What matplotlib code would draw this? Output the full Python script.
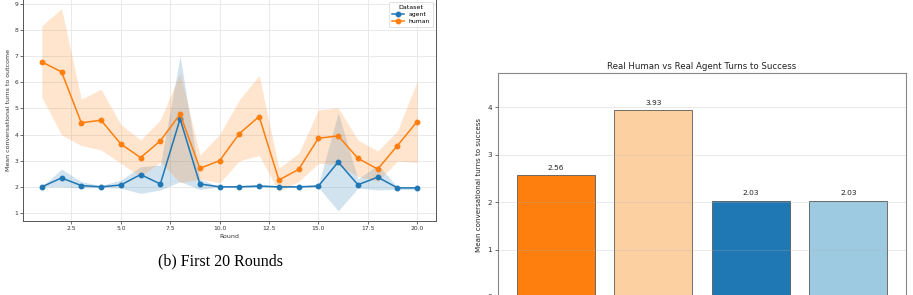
import matplotlib
matplotlib.use("Agg")
import matplotlib.pyplot as plt
import numpy as np

# ---- Left panel data: mean conversational turns per round ----
rounds = list(range(1, 21))
human_mean = [6.78, 6.40, 4.45, 4.55, 3.64, 3.12, 3.76, 4.78, 2.71, 3.00,
              4.04, 4.69, 2.26, 2.67, 3.86, 3.95, 3.09, 2.68, 3.58, 4.50]
human_upper = [8.16, 8.82, 5.36, 5.73, 4.39, 3.79, 4.56, 6.35, 3.22, 4.00,
               5.33, 6.27, 2.72, 3.28, 4.94, 5.03, 3.79, 3.37, 4.14, 6.05]
human_lower = [5.43, 3.99, 3.58, 3.41, 2.90, 2.39, 2.95, 2.16, 2.30, 2.15,
               3.00, 3.20, 1.82, 2.20, 2.90, 2.85, 2.40, 2.20, 2.99, 2.93]
agent_mean = [2.00, 2.34, 2.05, 2.00, 2.07, 2.47, 2.11, 4.60, 2.11, 2.00,
              2.00, 2.03, 2.00, 2.00, 2.03, 2.95, 2.08, 2.37, 1.96, 1.96]
agent_upper = [2.00, 2.68, 2.20, 2.05, 2.26, 2.77, 2.84, 7.01, 2.30, 2.00,
               2.05, 2.08, 2.03, 2.03, 2.08, 4.84, 2.30, 2.84, 2.00, 2.00]
agent_lower = [2.00, 2.00, 1.95, 1.97, 1.95, 1.75, 1.88, 2.20, 1.90, 2.00,
               1.98, 1.98, 1.98, 1.98, 1.98, 1.08, 1.95, 1.88, 1.90, 1.90]

# ---- Right panel data ----
bar_categories = ["Real Human (all)", "Real Human (matched)",
                  "Real Agent (all)", "Real Agent (matched)"]
bar_values = [2.56, 3.93, 2.03, 2.03]
bar_colors = ["#ff7f0e", "#fdd0a2", "#1f77b4", "#9ecae1"]

fig = plt.figure(figsize=(9.13, 2.95), dpi=100)

# Left axes
ax1 = fig.add_axes([23 / 913, 1 - 221 / 295, 413 / 913, 222.5 / 295])
blue, orange = "#1f77b4", "#ff7f0e"
ax1.fill_between(rounds, agent_lower, agent_upper, color=blue, alpha=0.2, linewidth=0)
ax1.fill_between(rounds, human_lower, human_upper, color=orange, alpha=0.2, linewidth=0)
ax1.plot(rounds, agent_mean, color=blue, marker="o", markersize=3.2, linewidth=1.1, label="agent")
ax1.plot(rounds, human_mean, color=orange, marker="o", markersize=3.2, linewidth=1.1, label="human")
ax1.grid(True, color="#e6e6e6", linewidth=0.6)
ax1.set_axisbelow(True)
ax1.tick_params(labelsize=4.3, length=2, width=0.5, pad=1.5, colors="#333333")
ax1.set_xlabel("Round", fontsize=4.5, labelpad=2, color="#333333")
ax1.set_ylabel("Mean conversational turns to outcome", fontsize=4.5, labelpad=2, color="#333333")
for s in ax1.spines.values():
    s.set_color("#555555")
    s.set_linewidth(0.7)
leg = ax1.legend(title="Dataset", loc="upper right", fontsize=4.4, title_fontsize=4.6,
                 frameon=True, borderpad=0.5, labelspacing=0.3, handlelength=1.9,
                 fancybox=True)
leg.get_frame().set_linewidth(0.5)

fig.text(220 / 913, 1 - 261 / 295, "(b) First 20 Rounds", fontsize=11.5,
         family="Liberation Serif", ha="center", va="center")

# Right axes (bottom edge, with its category labels, lies below the visible crop)
ax2 = fig.add_axes([498 / 913, 1 - 297 / 295, 408 / 913, 224 / 295])
x = np.arange(len(bar_values))
bars = ax2.bar(x, bar_values, width=0.8, color=bar_colors, edgecolor="#5a5a5a", linewidth=0.6)
ax2.set_ylim(0, max(bar_values) * 1.2)
ax2.set_xticks(x)
ax2.set_xticklabels([""] * len(bar_categories))
ax2.set_title("Real Human vs Real Agent Turns to Success", fontsize=6.2, pad=3, color="#222222")
ax2.set_ylabel("Mean conversational turns to success", fontsize=5.1, labelpad=4, color="#222222")
ax2.tick_params(labelsize=5.2, length=2.5, width=0.5, pad=2, colors="#333333")
ax2.yaxis.grid(True, color="#b0b0b0", alpha=0.3, linewidth=0.6)
ax2.set_axisbelow(False)
for s in ax2.spines.values():
    s.set_color("#888888")
    s.set_linewidth(0.8)
for b, v in zip(bars, bar_values):
    ax2.annotate(f"{v:.2f}", (b.get_x() + b.get_width() / 2, v), xytext=(0, 3),
                 textcoords="offset points", ha="center", va="bottom", fontsize=5.4,
                 color="#222222")

fig.savefig("out.png", dpi=100)
